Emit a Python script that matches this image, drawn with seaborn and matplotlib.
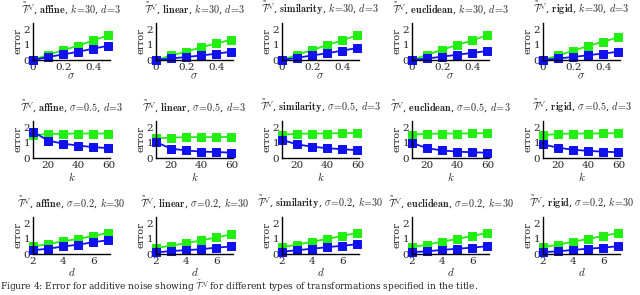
import numpy as np
import pandas as pd
import matplotlib
matplotlib.use("Agg")
import matplotlib.pyplot as plt
import seaborn as sns

sns.set_theme(style="white")
plt.rcParams['font.family'] = ['DejaVu Serif']
plt.rcParams['mathtext.fontset'] = 'cm'

transforms = ["affine", "linear", "similarity", "euclidean", "rigid"]

sigma_vals = [0, 0.1, 0.2, 0.3, 0.4, 0.5]
k_vals = [10, 20, 30, 40, 50, 60]
d_vals = [2, 3, 4, 5, 6, 7]

# Row 1: error vs sigma (k=30, d=3)
sigma_green = {
    "affine":     [0, 0.35, 0.65, 0.95, 1.30, 1.65],
    "linear":     [0, 0.30, 0.55, 0.85, 1.10, 1.35],
    "similarity": [0, 0.35, 0.65, 1.00, 1.30, 1.65],
    "euclidean":  [0, 0.35, 0.68, 1.00, 1.30, 1.65],
    "rigid":      [0, 0.30, 0.62, 0.93, 1.22, 1.50],
}
sigma_blue = {
    "affine":     [0, 0.20, 0.37, 0.55, 0.75, 0.95],
    "linear":     [0, 0.10, 0.20, 0.30, 0.42, 0.55],
    "similarity": [0, 0.15, 0.30, 0.45, 0.62, 0.80],
    "euclidean":  [0, 0.10, 0.22, 0.35, 0.47, 0.60],
    "rigid":      [0, 0.10, 0.20, 0.32, 0.43, 0.55],
}
# Row 2: error vs k (sigma=0.5, d=3)
k_green = {
    "affine":     [1.50, 1.60, 1.60, 1.62, 1.62, 1.62],
    "linear":     [1.30, 1.35, 1.38, 1.38, 1.38, 1.40],
    "similarity": [1.55, 1.60, 1.62, 1.62, 1.65, 1.65],
    "euclidean":  [1.55, 1.60, 1.62, 1.62, 1.63, 1.65],
    "rigid":      [1.50, 1.60, 1.62, 1.62, 1.63, 1.65],
}
k_blue = {
    "affine":     [1.75, 1.15, 0.95, 0.82, 0.72, 0.65],
    "linear":     [1.05, 0.62, 0.50, 0.42, 0.40, 0.35],
    "similarity": [1.20, 0.90, 0.75, 0.65, 0.58, 0.52],
    "euclidean":  [1.00, 0.65, 0.50, 0.42, 0.38, 0.35],
    "rigid":      [0.90, 0.68, 0.55, 0.47, 0.42, 0.38],
}
# Row 3: error vs d (sigma=0.2, k=30)
d_green = {
    "affine":     [0.50, 0.65, 0.85, 1.00, 1.20, 1.40],
    "linear":     [0.40, 0.55, 0.72, 0.90, 1.10, 1.30],
    "similarity": [0.45, 0.62, 0.82, 1.00, 1.20, 1.40],
    "euclidean":  [0.45, 0.62, 0.82, 1.00, 1.20, 1.40],
    "rigid":      [0.45, 0.62, 0.82, 1.00, 1.20, 1.40],
}
d_blue = {
    "affine":     [0.25, 0.35, 0.50, 0.62, 0.78, 0.92],
    "linear":     [0.10, 0.20, 0.25, 0.32, 0.42, 0.50],
    "similarity": [0.15, 0.25, 0.35, 0.45, 0.55, 0.65],
    "euclidean":  [0.12, 0.18, 0.27, 0.35, 0.42, 0.52],
    "rigid":      [0.12, 0.18, 0.27, 0.35, 0.42, 0.52],
}

rows = [
    dict(x=sigma_vals, g=sigma_green, b=sigma_blue, xlabel=r"$\sigma$",
         params=r"$k\!=\!30$, $d\!=\!3$", xlim=(0, 0.51), xticks=[0, 0.2, 0.4],
         xticklabels=["0", "0.2", "0.4"]),
    dict(x=k_vals, g=k_green, b=k_blue, xlabel=r"$k$",
         params=r"$\sigma\!=\!0.5$, $d\!=\!3$", xlim=(10, 61), xticks=[20, 40, 60],
         xticklabels=["20", "40", "60"]),
    dict(x=d_vals, g=d_green, b=d_blue, xlabel=r"$d$",
         params=r"$\sigma\!=\!0.2$, $k\!=\!30$", xlim=(2, 7.1), xticks=[2, 4, 6],
         xticklabels=["2", "4", "6"]),
]

W, H = 640, 295
fig = plt.figure(figsize=(W / 100, H / 100), dpi=100)

col_left = [33, 156, 282, 412, 543]
row_top = [23, 121, 217]
ax_w, ax_h = 77, 37

green = "#22ee11"
blue = "#1111ee"

for r, spec in enumerate(rows):
    for c, t in enumerate(transforms):
        left = col_left[c] / W
        bottom = 1 - (row_top[r] + ax_h) / H
        ax = fig.add_axes([left, bottom, ax_w / W, ax_h / H])
        df = pd.DataFrame({"x": spec["x"], "g": spec["g"][t], "b": spec["b"][t]})
        sns.lineplot(data=df, x="x", y="g", ax=ax, color=green, marker="s",
                     markersize=5.5, markeredgecolor=green, linewidth=1.3, clip_on=False)
        sns.lineplot(data=df, x="x", y="b", ax=ax, color=blue, marker="s",
                     markersize=5.5, markeredgecolor=blue, linewidth=1.3, clip_on=False)
        ax.set_xlim(*spec["xlim"])
        ax.set_ylim(0, 2.45)
        ax.set_xticks(spec["xticks"])
        ax.set_xticklabels(spec["xticklabels"])
        ax.set_yticks([0, 1, 2])
        ax.set_yticklabels(["0", "1", "2"])
        for s in ["top", "right"]:
            ax.spines[s].set_visible(False)
        for s in ["left", "bottom"]:
            ax.spines[s].set_color("black")
            ax.spines[s].set_linewidth(1.0)
        ax.tick_params(axis="both", direction="in", length=3, width=0.6,
                       color="#aaaaaa", labelsize=7.5, pad=2)
        ax.set_xlabel(spec["xlabel"], fontsize=8, labelpad=0)
        ax.set_ylabel("error", fontsize=7, labelpad=1)
        title = (r"$\tilde{\mathcal{T}}^{\mathcal{N}}$, $\mathbf{" + t + r"}$, "
                 + spec["params"])
        ax.set_title(title, fontsize=7.3, pad=7)

caption = (r"Figure 4: Error for additive noise showing $\tilde{\mathcal{T}}^{\mathcal{N}}$"
           r" for different types of transformations specified in the title.")
fig.text(0.0, 0.5 / H, caption, fontsize=6.5, va="bottom", ha="left")

fig.savefig("out.png", dpi=100)
